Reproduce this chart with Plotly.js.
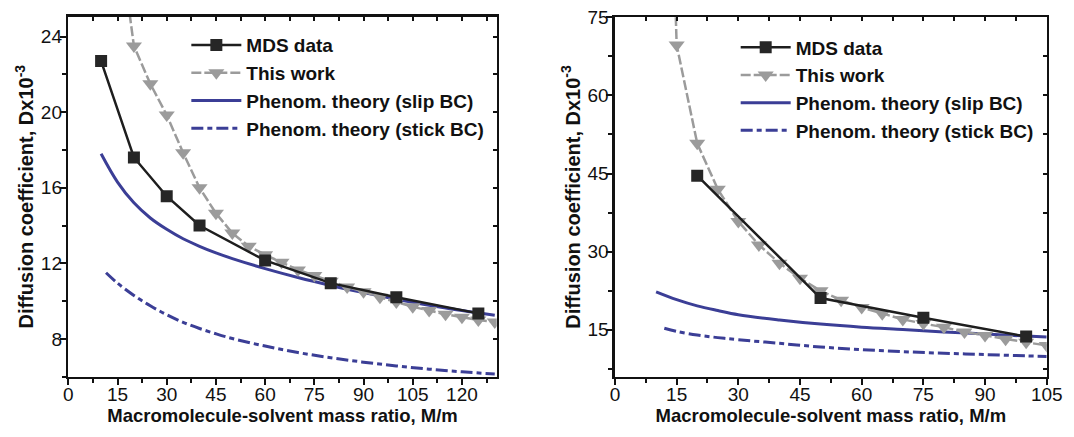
<!DOCTYPE html>
<html>
<head>
<meta charset="utf-8">
<script src="https://cdn.plot.ly/plotly-3.0.1.min.js"></script>
<style>html,body{margin:0;padding:0;background:#fff;}#chart{width:1074px;height:437px;}</style>
</head>
<body>
<div id="chart"></div>
<script>
// ---- Left panel data ----
const leftMdsX = [10, 20, 30, 40, 60, 80, 100, 125];
const leftMdsY = [22.7, 17.6, 15.55, 14.0, 12.15, 10.95, 10.2, 9.35];
const leftWorkX = [15, 20, 25, 30, 35, 40, 45, 50, 55, 60, 65, 70, 75, 80, 85, 90, 95, 100, 105, 110, 115, 120, 125, 130];
const leftWorkY = [30, 23.5, 21.5, 19.85, 17.85, 16.0, 14.65, 13.6, 12.9, 12.45, 12.05, 11.65, 11.35, 11.05, 10.75, 10.5, 10.2, 9.95, 9.7, 9.5, 9.3, 9.15, 9.0, 8.9];
const leftSlipX = [10, 15, 20, 25, 30, 35, 40, 45, 50, 60, 70, 80, 90, 100, 110, 120, 130];
const leftSlipY = [17.8, 16.3, 15.2, 14.4, 13.8, 13.3, 12.9, 12.55, 12.25, 11.72, 11.25, 10.83, 10.45, 10.1, 9.78, 9.5, 9.25];
const leftStickX = [11.5, 15, 20, 25, 30, 35, 40, 45, 50, 60, 70, 80, 90, 100, 110, 120, 130];
const leftStickY = [11.5, 10.95, 10.3, 9.75, 9.28, 8.88, 8.55, 8.27, 8.02, 7.62, 7.28, 7.0, 6.77, 6.57, 6.4, 6.26, 6.14];

// ---- Right panel data ----
const rightMdsX = [20, 50, 75, 100];
const rightMdsY = [44.6, 21.1, 17.3, 13.7];
const rightWorkX = [10, 15, 20, 25, 30, 35, 40, 45, 50, 55, 60, 65, 70, 75, 80, 85, 90, 95, 100, 105];
const rightWorkY = [200, 69.7, 50.8, 42.0, 35.8, 31.3, 27.8, 24.9, 22.5, 20.7, 19.3, 18.1, 17.0, 16.2, 15.5, 14.6, 13.9, 13.2, 12.6, 12.0];
const rightSlipX = [10, 15, 20, 25, 30, 40, 50, 60, 70, 80, 90, 100, 105];
const rightSlipY = [22.3, 20.8, 19.6, 18.7, 17.9, 16.9, 16.1, 15.5, 15.05, 14.6, 14.2, 13.8, 13.6];
const rightStickX = [12, 15, 20, 25, 30, 40, 50, 60, 70, 80, 90, 100, 105];
const rightStickY = [15.3, 14.7, 14.0, 13.5, 13.1, 12.4, 11.7, 11.2, 10.8, 10.5, 10.25, 10.0, 9.9];

// ---- Labels ----
const seriesNames = ['MDS data', 'This work', 'Phenom. theory (slip BC)', 'Phenom. theory (stick BC)'];
const xTitle = 'Macromolecule-solvent mass ratio, M/m';
const yTitle = 'Diffusion coefficient, Dx10<sup>-3</sup>';

const BLACK = '#1e1e1e', GRAY = '#9b9b9b', BLUE = '#3b3e96';
const FONT = 'Liberation Sans, Arial, sans-serif';

function panel(xa, ya, leg, mx, my, wx, wy, sx, sy, tx, ty) {
  return [
    {x: sx, y: sy, xaxis: xa, yaxis: ya, legend: leg, name: seriesNames[2], mode: 'lines',
     line: {color: BLUE, width: 3, shape: 'spline'}},
    {x: tx, y: ty, xaxis: xa, yaxis: ya, legend: leg, name: seriesNames[3], mode: 'lines',
     line: {color: BLUE, width: 3, dash: '12px,4px,5px,4px', shape: 'spline'}},
    {x: wx, y: wy, xaxis: xa, yaxis: ya, legend: leg, name: seriesNames[1], mode: 'lines+markers',
     line: {color: GRAY, width: 2.5, dash: '10px,3px'},
     marker: {symbol: 'triangle-down', size: 14, color: GRAY, line: {width: 0}}},
    {x: mx, y: my, xaxis: xa, yaxis: ya, legend: leg, name: seriesNames[0], mode: 'lines+markers',
     line: {color: BLACK, width: 2.5},
     marker: {symbol: 'square', size: 12, color: '#262626', line: {width: 0}}}
  ];
}

let traces = [];
traces = traces.concat(panel('x', 'y', 'legend', leftMdsX, leftMdsY, leftWorkX, leftWorkY, leftSlipX, leftSlipY, leftStickX, leftStickY));
traces = traces.concat(panel('x2', 'y2', 'legend2', rightMdsX, rightMdsY, rightWorkX, rightWorkY, rightSlipX, rightSlipY, rightStickX, rightStickY));
traces.forEach(t => { t.legendrank = seriesNames.indexOf(t.name) + 1; });
// empty traces so that the mirrored inner-tick axes are drawn
traces.push({x: [], y: [], xaxis: 'x3', yaxis: 'y', showlegend: false, hoverinfo: 'skip'});
traces.push({x: [], y: [], xaxis: 'x', yaxis: 'y3', showlegend: false, hoverinfo: 'skip'});
traces.push({x: [], y: [], xaxis: 'x4', yaxis: 'y2', showlegend: false, hoverinfo: 'skip'});
traces.push({x: [], y: [], xaxis: 'x2', yaxis: 'y4', showlegend: false, hoverinfo: 'skip'});

const tickFont = {family: FONT, size: 19, color: '#111'};
const xTitleFont = {family: FONT, size: 18.5, color: '#111', weight: 'bold'};
const yTitleFont = {family: FONT, size: 20, color: '#111', weight: 'bold'};

function xMain(domain, range, dtick, anchor) {
  return {domain: domain, range: range, anchor: anchor, dtick: dtick, tick0: 0,
    ticks: 'outside', ticklen: 6, tickwidth: 2, tickcolor: '#111', ticklabelstandoff: -7,
    minor: {ticks: 'outside', ticklen: 4, tickwidth: 2, dtick: dtick / 2, tickcolor: '#111'},
    showline: true, linewidth: 2.5, linecolor: '#111', mirror: true,
    showgrid: false, zeroline: false, tickfont: tickFont,
    title: {text: xTitle, font: xTitleFont, standoff: 3}};
}
function yMain(domain, range, dtick, tick0, anchor) {
  return {domain: domain, range: range, anchor: anchor, dtick: dtick, tick0: tick0,
    ticks: 'outside', ticklen: 6, tickwidth: 2, tickcolor: '#111', ticklabelstandoff: -6,
    minor: {ticks: 'outside', ticklen: 4, tickwidth: 2, dtick: dtick / 2, tickcolor: '#111'},
    showline: true, linewidth: 2.5, linecolor: '#111', mirror: true,
    showgrid: false, zeroline: false, tickfont: tickFont,
    title: {text: yTitle, font: yTitleFont, standoff: 2}};
}
function xTop(over, anchor, range, dtick) {
  return {overlaying: over, anchor: anchor, side: 'top', range: range, dtick: dtick, tick0: 0,
    ticks: 'inside', ticklen: 4, tickwidth: 2, tickcolor: '#111', showticklabels: false,
    showline: false, showgrid: false, zeroline: false};
}
function yRight(over, anchor, range, dtick, tick0) {
  return {overlaying: over, anchor: anchor, side: 'right', range: range, dtick: dtick, tick0: tick0,
    ticks: 'inside', ticklen: 4, tickwidth: 2, tickcolor: '#111', showticklabels: false,
    showline: false, showgrid: false, zeroline: false};
}

const LX = [0.0636, 0.4625], RX = [0.5726, 0.9746];
const LY = [0.138, 0.9618], RY = [0.138, 0.9604];
const LXR = [0, 130.6], RXR = [0, 105];
const LYR = [6, 25.05], RYR = [6, 75];

const legendCommon = {bgcolor: 'rgba(0,0,0,0)', borderwidth: 0, xanchor: 'left', yanchor: 'top',
  font: {family: FONT, size: 19, color: '#111', weight: 'bold'}, itemwidth: 50,
  tracegroupgap: 0, traceorder: 'normal'};

const layout = {
  width: 1074, height: 437,
  margin: {l: 0, r: 0, t: 0, b: 0},
  paper_bgcolor: '#fff', plot_bgcolor: '#fff',
  showlegend: true,
  font: {family: FONT},
  xaxis: xMain(LX, LXR, 15, 'y'),
  yaxis: yMain(LY, LYR, 4, 0, 'x'),
  xaxis2: xMain(RX, RXR, 15, 'y2'),
  yaxis2: yMain(RY, RYR, 15, 0, 'x2'),
  xaxis3: xTop('x', 'y', LXR, 7.5),
  yaxis3: yRight('y', 'x', LYR, 2, 0),
  xaxis4: xTop('x2', 'y2', RXR, 7.5),
  yaxis4: yRight('y2', 'x2', RYR, 7.5, 0),
  legend: Object.assign({x: 0.1735, y: 0.94}, legendCommon),
  legend2: Object.assign({x: 0.685, y: 0.935}, legendCommon)
};

Plotly.newPlot('chart', traces, layout, {displayModeBar: false, staticPlot: true});
</script>
</body>
</html>
